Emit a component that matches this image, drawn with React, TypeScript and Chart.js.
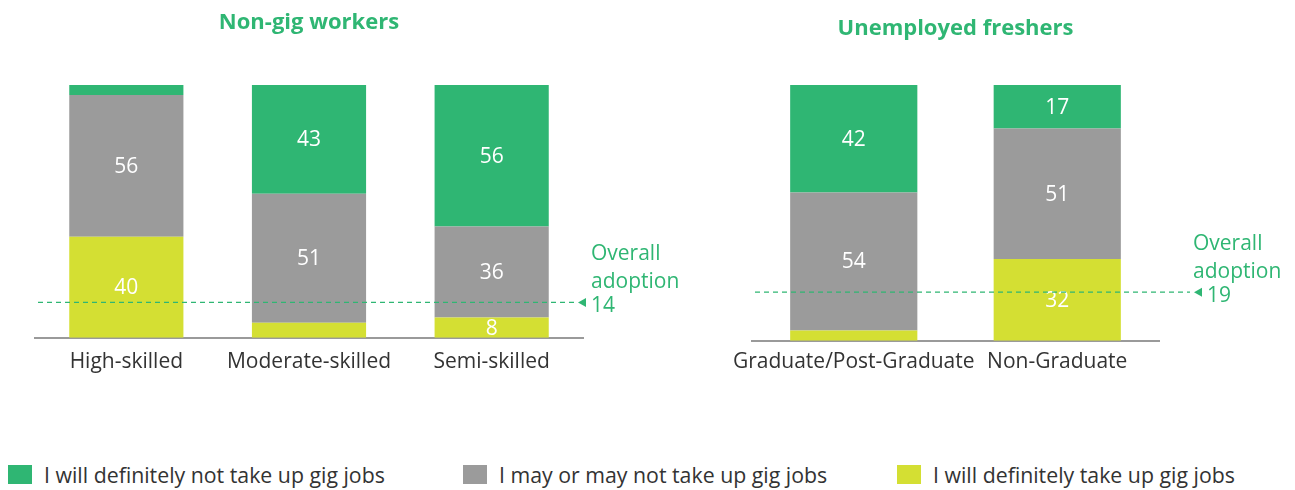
import React, { useEffect, useRef } from "react";
import { Chart, registerables } from "chart.js";

Chart.register(...registerables);

// ---- data ----
const seriesLabels = [
  "I will definitely not take up gig jobs",
  "I may or may not take up gig jobs",
  "I will definitely take up gig jobs",
];
const seriesColors = ["#2fb673", "#9b9b9b", "#d4df33"];

const nonGigTitle = "Non-gig workers";
const nonGigCategories = ["High-skilled", "Moderate-skilled", "Semi-skilled"];
const nonGigNotTake = [4, 43, 56];
const nonGigMaybe = [56, 51, 36];
const nonGigTake = [40, 6, 8];
const nonGigOverall = 14;

const fresherTitle = "Unemployed freshers";
const fresherCategories = ["Graduate/Post-Graduate", "Non-Graduate"];
const fresherNotTake = [42, 17];
const fresherMaybe = [54, 51];
const fresherTake = [4, 32];
const fresherOverall = 19;

const overallLabel = ["Overall", "adoption"];
const labelThreshold = 8;

const FONT = '"Open Sans", "Noto Sans", sans-serif';
const GREEN = "#2fb673";
const TEXT = "#333333";

type PanelProps = {
  title: string;
  categories: string[];
  notTake: number[];
  maybe: number[];
  take: number[];
  overall: number;
  left: number;
  width: number;
  height: number;
  padding: { left: number; right: number; top: number; bottom: number };
  titlePad: { top: number; bottom: number };
  tickPad: number;
  textX: number;
  numberX: number;
};

function Panel(p: PanelProps) {
  const ref = useRef<HTMLCanvasElement | null>(null);
  useEffect(() => {
    if (!ref.current) return;
    const segLabels = {
      id: "segLabels",
      afterDatasetsDraw(chart: any) {
        const ctx = chart.ctx;
        ctx.save();
        ctx.font = `21px ${FONT}`;
        ctx.fillStyle = "#ffffff";
        ctx.textAlign = "center";
        ctx.textBaseline = "middle";
        chart.data.datasets.forEach((ds: any, di: number) => {
          const meta = chart.getDatasetMeta(di);
          meta.data.forEach((el: any, i: number) => {
            const v = ds.data[i];
            if (v < labelThreshold) return;
            const { x, y, base } = el.getProps(["x", "y", "base"], true);
            ctx.fillText(String(v), x, (y + base) / 2 + 1);
          });
        });
        ctx.restore();
      },
    };
    const overallPlugin = {
      id: "overallLine",
      afterDraw(chart: any) {
        const ctx = chart.ctx;
        const y = chart.scales.y.getPixelForValue(p.overall);
        const tip = p.numberX - 13;
        ctx.save();
        ctx.strokeStyle = GREEN;
        ctx.lineWidth = 1.2;
        ctx.setLineDash([5, 4]);
        ctx.beginPath();
        ctx.moveTo(chart.chartArea.left + 3, y);
        ctx.lineTo(tip - 4, y);
        ctx.stroke();
        ctx.setLineDash([]);
        ctx.fillStyle = GREEN;
        ctx.beginPath();
        ctx.moveTo(tip, y);
        ctx.lineTo(tip + 8, y - 4.5);
        ctx.lineTo(tip + 8, y + 4.5);
        ctx.closePath();
        ctx.fill();
        ctx.font = `21px ${FONT}`;
        ctx.textAlign = "left";
        ctx.textBaseline = "middle";
        ctx.fillText(overallLabel[0], p.textX, y - 48);
        ctx.fillText(overallLabel[1], p.textX, y - 20);
        ctx.fillText(String(p.overall), p.numberX, y + 4);
        ctx.restore();
      },
    };
    const chart = new Chart(ref.current, {
      type: "bar",
      data: {
        labels: p.categories,
        datasets: [
          { label: seriesLabels[2], data: p.take, backgroundColor: seriesColors[2] },
          { label: seriesLabels[1], data: p.maybe, backgroundColor: seriesColors[1] },
          { label: seriesLabels[0], data: p.notTake, backgroundColor: seriesColors[0] },
        ],
      },
      options: {
        responsive: false,
        animation: false,
        layout: { padding: p.padding },
        datasets: { bar: { categoryPercentage: 1, barPercentage: 0.625, borderWidth: 0 } },
        plugins: {
          legend: { display: false },
          tooltip: { enabled: false },
          title: {
            display: true,
            text: p.title,
            color: GREEN,
            font: { family: FONT, size: 22, weight: "bold" },
            padding: p.titlePad,
          },
        },
        scales: {
          x: {
            stacked: true,
            grid: { display: false, drawTicks: false },
            border: { display: true, color: "#9a9a9a", width: 2 },
            ticks: { color: TEXT, font: { family: FONT, size: 21 }, padding: p.tickPad, maxRotation: 0, autoSkip: false },
          },
          y: { stacked: true, display: false, min: 0, max: 100 },
        },
      },
      plugins: [segLabels, overallPlugin],
    } as any);
    return () => chart.destroy();
  }, []);
  return (
    <canvas
      ref={ref}
      width={p.width}
      height={p.height}
      style={{ position: "absolute", left: p.left, top: 0, width: p.width, height: p.height }}
    />
  );
}

const legendPositions = [8, 463, 897];

export default function App() {
  return (
    <div style={{ position: "absolute", left: 0, top: 0, width: 1295, height: 490, background: "#fff", overflow: "hidden" }}>
      <Panel
        title={nonGigTitle}
        categories={nonGigCategories}
        notTake={nonGigNotTake}
        maybe={nonGigMaybe}
        take={nonGigTake}
        overall={nonGigOverall}
        left={0}
        width={700}
        height={400}
        padding={{ left: 35, right: 117, top: 0, bottom: 13 }}
        titlePad={{ top: 10, bottom: 48.6 }}
        tickPad={12}
        textX={591}
        numberX={591}
      />
      <Panel
        title={fresherTitle}
        categories={fresherCategories}
        notTake={fresherNotTake}
        maybe={fresherMaybe}
        take={fresherTake}
        overall={fresherOverall}
        left={700}
        width={595}
        height={400}
        padding={{ left: 52, right: 136, top: 0, bottom: 16 }}
        titlePad={{ top: 16, bottom: 42.6 }}
        tickPad={9}
        textX={493}
        numberX={507}
      />
      {seriesLabels.map((lab, i) => (
        <div
          key={lab}
          style={{
            position: "absolute",
            left: legendPositions[i],
            top: 462,
            height: 24,
            display: "flex",
            alignItems: "center",
            fontFamily: FONT,
            fontSize: 21.3,
            color: TEXT,
            whiteSpace: "nowrap",
          }}
        >
          <span style={{ display: "inline-block", width: 24, height: 19, background: seriesColors[i], marginRight: 12 }} />
          <span>{lab}</span>
        </div>
      ))}
    </div>
  );
}
